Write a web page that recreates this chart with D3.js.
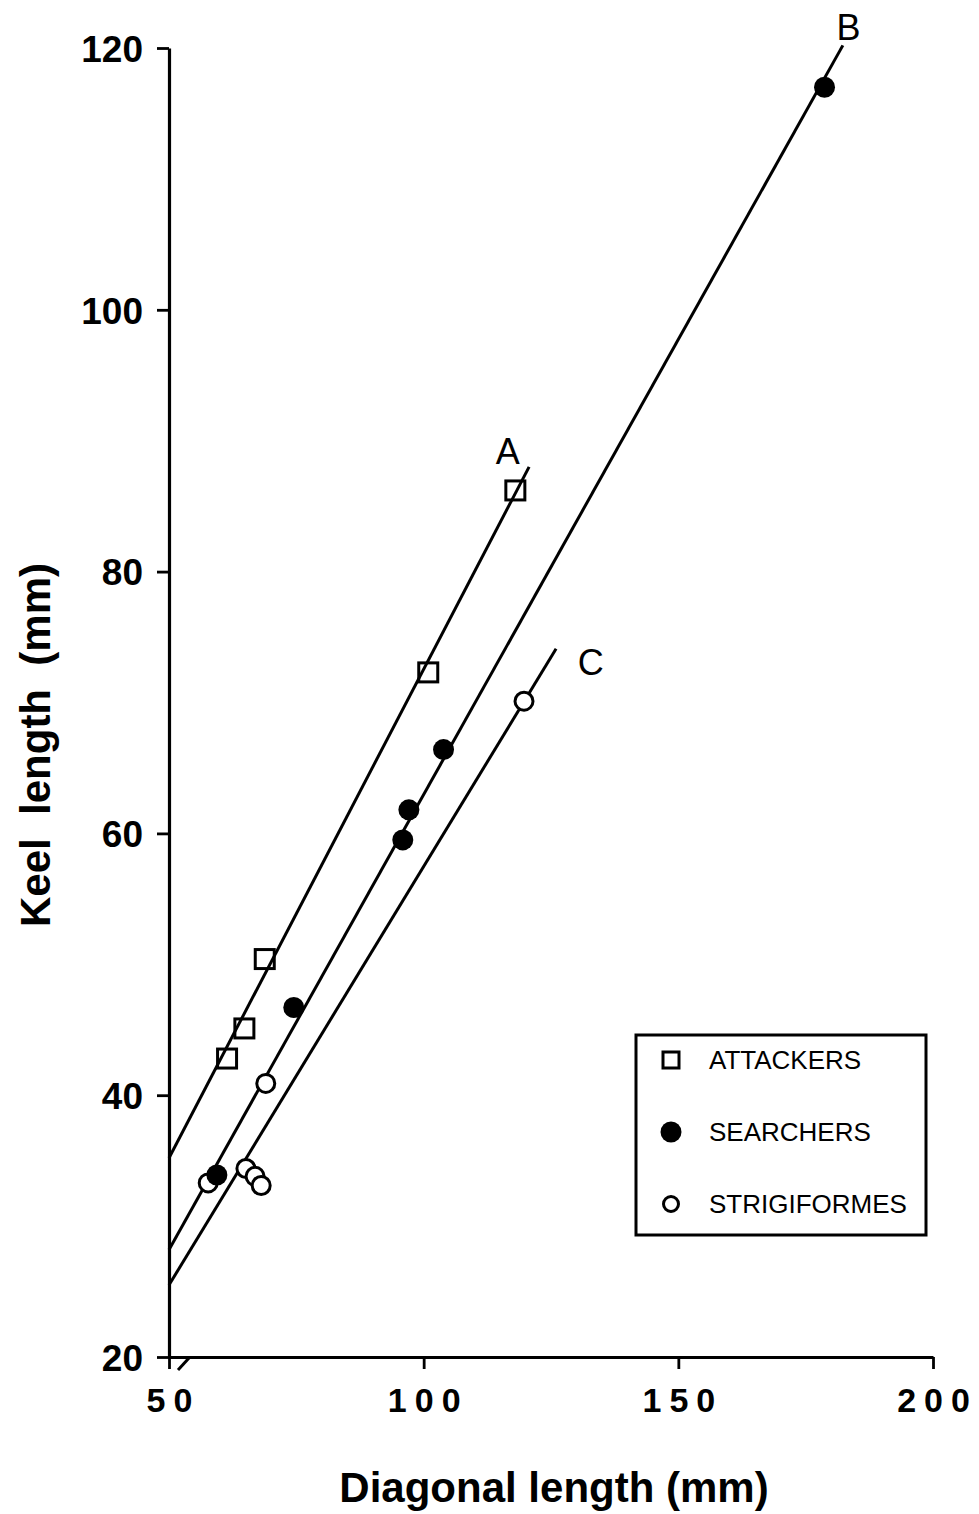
<!DOCTYPE html>
<html>
<head>
<meta charset="utf-8">
<script src="https://cdn.jsdelivr.net/npm/d3@7"></script>
<style>
  body { margin: 0; background: #fff; }
  svg text { font-family: "Liberation Sans", Arial, sans-serif; fill: #000; }
</style>
</head>
<body>
<div id="chart"></div>
<script>
// data (mm)
var attackers = [[61.4, 42.8], [64.8, 45.1], [68.8, 50.4], [100.9, 72.3], [118.0, 86.2]];
var searchers = [[59.4, 33.9], [74.5, 46.7], [95.9, 59.5], [97.1, 61.8], [103.9, 66.4], [178.7, 117.0]];
var strigiformes = [[57.7, 33.3], [65.1, 34.4], [66.9, 33.8], [68.1, 33.1], [69.0, 40.9], [119.7, 70.1]];

// regression lines: [x0, y0, x1, y1]
var lineA = [50, 35.2, 120.7, 88.0];
var lineB = [50, 28.2, 182.3, 120.2];
var lineC = [50, 25.5, 126.0, 74.1];
var lineLabels = [["A", 116.5, 89.2], ["B", 183.4, 121.6], ["C", 132.8, 73.1]];

var xTicks = [50, 100, 150, 200];
var yTicks = [20, 40, 60, 80, 100, 120];
var legendItems = ["ATTACKERS", "SEARCHERS", "STRIGIFORMES"];

var W = 979, H = 1514;

var svg = d3.select("#chart")
  .append("svg")
    .attr("width", W)
    .attr("height", H);

var x = d3.scaleLinear().domain([50, 200]).range([169, 933]);
var y = d3.scaleLinear().domain([20, 120]).range([1357, 48]);

// Y axis
var yAxis = svg.append("g")
  .attr("transform", "translate(" + x(50) + ",0)")
  .call(d3.axisLeft(y).tickValues(yTicks).tickSize(12).tickSizeOuter(0).tickPadding(14));
yAxis.select(".domain").attr("stroke-width", 3.2);
yAxis.selectAll(".tick line").attr("stroke-width", 2.8);
yAxis.selectAll("text")
  .style("font-size", "37px")
  .style("font-weight", "bold")
  .attr("dy", "0.36em");

// X axis
var xAxis = svg.append("g")
  .attr("transform", "translate(0," + y(20) + ")")
  .call(d3.axisBottom(x).tickValues(xTicks).tickSize(12).tickSizeOuter(0).tickPadding(14));
xAxis.select(".domain").attr("stroke-width", 3.2);
xAxis.selectAll(".tick line").attr("stroke-width", 2.8);
xAxis.selectAll("text")
  .style("font-size", "34px")
  .style("font-weight", "bold")
  .style("letter-spacing", "8px")
  .attr("dx", "4px")
  .attr("dy", "0.85em");

// axis break mark
svg.append("line")
  .attr("x1", 178).attr("y1", 1370)
  .attr("x2", 189).attr("y2", 1358)
  .attr("stroke", "#000").attr("stroke-width", 3);

// axis titles
svg.append("text")
  .attr("transform", "translate(50,745) rotate(-90)")
  .attr("text-anchor", "middle")
  .style("font-size", "42px")
  .style("font-weight", "bold")
  .style("white-space", "pre")
  .text("Keel  length  (mm)");

svg.append("text")
  .attr("x", 554)
  .attr("y", 1502)
  .attr("text-anchor", "middle")
  .style("font-size", "42px")
  .style("font-weight", "bold")
  .text("Diagonal length (mm)");

// regression lines
[lineA, lineB, lineC].forEach(function(l) {
  svg.append("line")
    .attr("x1", x(l[0])).attr("y1", y(l[1]))
    .attr("x2", x(l[2])).attr("y2", y(l[3]))
    .attr("stroke", "#000")
    .attr("stroke-width", 3);
});

svg.selectAll(".linelabel")
  .data(lineLabels)
  .enter()
  .append("text")
    .attr("class", "linelabel")
    .attr("x", function(d) { return x(d[1]); })
    .attr("y", function(d) { return y(d[2]); })
    .attr("text-anchor", "middle")
    .attr("dy", "0.36em")
    .style("font-size", "36px")
    .text(function(d) { return d[0]; });

// points
svg.selectAll(".strig")
  .data(strigiformes)
  .enter()
  .append("circle")
    .attr("class", "strig")
    .attr("cx", function(d) { return x(d[0]); })
    .attr("cy", function(d) { return y(d[1]); })
    .attr("r", 9)
    .attr("fill", "#fff")
    .attr("stroke", "#000")
    .attr("stroke-width", 3);

svg.selectAll(".search")
  .data(searchers)
  .enter()
  .append("circle")
    .attr("class", "search")
    .attr("cx", function(d) { return x(d[0]); })
    .attr("cy", function(d) { return y(d[1]); })
    .attr("r", 10.5)
    .attr("fill", "#000");

svg.selectAll(".attack")
  .data(attackers)
  .enter()
  .append("rect")
    .attr("class", "attack")
    .attr("x", function(d) { return x(d[0]) - 9.5; })
    .attr("y", function(d) { return y(d[1]) - 9.5; })
    .attr("width", 19)
    .attr("height", 19)
    .attr("fill", "none")
    .attr("stroke", "#000")
    .attr("stroke-width", 3);

// legend
var legend = svg.append("g").attr("transform", "translate(636,1035)");
legend.append("rect")
  .attr("width", 290)
  .attr("height", 200)
  .attr("fill", "#fff")
  .attr("stroke", "#000")
  .attr("stroke-width", 3);

var li = legend.selectAll(".li")
  .data(legendItems)
  .enter()
  .append("g")
    .attr("class", "li")
    .attr("transform", function(d, i) { return "translate(0," + (25 + i * 72) + ")"; });

li.append("text")
  .attr("x", 73)
  .attr("dy", "0.36em")
  .style("font-size", "26px")
  .text(function(d) { return d; });

li.filter(function(d, i) { return i == 0; })
  .append("rect")
    .attr("x", 27).attr("y", -8)
    .attr("width", 16).attr("height", 16)
    .attr("fill", "none").attr("stroke", "#000").attr("stroke-width", 3);
li.filter(function(d, i) { return i == 1; })
  .append("circle")
    .attr("cx", 35).attr("r", 10.5).attr("fill", "#000");
li.filter(function(d, i) { return i == 2; })
  .append("circle")
    .attr("cx", 35).attr("r", 7.5)
    .attr("fill", "#fff").attr("stroke", "#000").attr("stroke-width", 3);
</script>
</body>
</html>
